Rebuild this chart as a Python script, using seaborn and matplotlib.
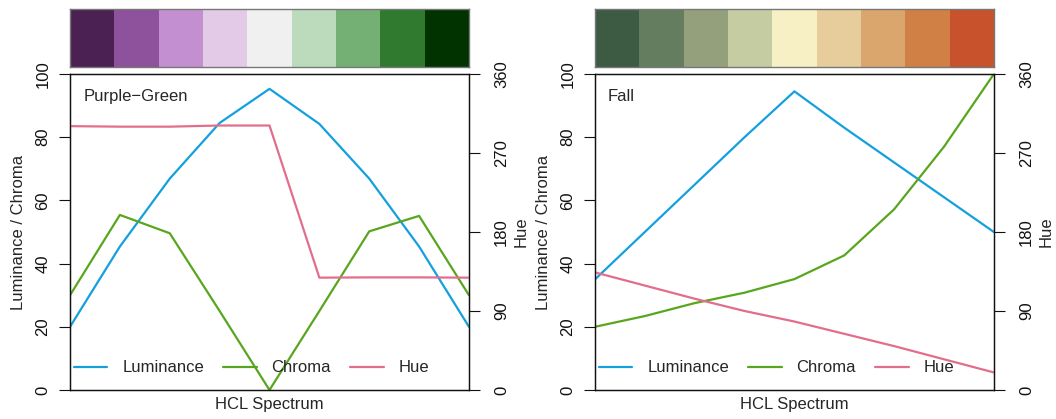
import matplotlib
matplotlib.use("Agg")
import matplotlib.pyplot as plt
import seaborn as sns
import pandas as pd

# HCL spectrum of two 9-colour palettes
positions = list(range(1, 10))
series_names = ["Luminance", "Chroma", "Hue"]

pg_name = "Purple\u2212Green"
pg_swatches = ["#4B2052", "#8E519B", "#C48FD1", "#E3CBE8", "#F0F0F0",
               "#BCDBBD", "#74AF74", "#2F7A2F", "#013301"]
pg_luminance = [20, 45.4, 66.9, 84.5, 95.3, 84.2, 66.9, 45.4, 20]
pg_chroma = [30, 55.4, 49.6, 25, 0, 25, 50.2, 55.1, 30]
pg_hue = [300.6, 300, 300, 301.3, 301.3, 128, 128.3, 128.3, 128]

fall_name = "Fall"
fall_swatches = ["#3D5A43", "#657D5F", "#94A07C", "#C6CCA1", "#F8F0C5",
                 "#E7CD9C", "#DBA66D", "#D18045", "#C7522B"]
fall_luminance = [35, 50, 65, 80, 94.5, 83, 72, 61, 50]
fall_chroma = [20, 23.4, 27.5, 30.8, 35.1, 42.6, 57.2, 77, 100]
fall_hue = [134, 119, 104, 90, 78, 64, 50, 35, 20]

line_colors = {"Luminance": "#14A0DE", "Chroma": "#58A61E", "Hue": "#E26E8C"}

sns.set_style("ticks")
plt.rcParams["font.family"] = ["Liberation Sans", "DejaVu Sans"]
plt.rcParams["font.size"] = 12

fig = plt.figure(figsize=(10.56, 4.19), dpi=100)


def draw_panel(left, name, swatches, lum, chroma, hue):
    width = 0.3778
    # colour swatches
    ax_sw = fig.add_axes([left, 0.8401, width, 0.1384])
    ax_sw.bar(positions, 1, width=1, color=swatches, linewidth=0)
    ax_sw.set_xlim(0.5, 9.5)
    ax_sw.set_ylim(0, 1)
    ax_sw.set_xticks([])
    ax_sw.set_yticks([])
    for s in ax_sw.spines.values():
        s.set_color("#777777")
        s.set_linewidth(1.0)

    df = pd.DataFrame({"x": positions, "Luminance": lum, "Chroma": chroma, "Hue": hue})

    ax = fig.add_axes([left, 0.0692, width, 0.7542])
    sns.lineplot(data=df, x="x", y="Luminance", ax=ax, color=line_colors["Luminance"],
                 linewidth=1.6, legend=False)
    sns.lineplot(data=df, x="x", y="Chroma", ax=ax, color=line_colors["Chroma"],
                 linewidth=1.6, legend=False)
    ax.set_xlim(1, 9)
    ax.set_ylim(0, 100)
    ax.set_xticks([])
    ax.set_yticks([0, 20, 40, 60, 80, 100])
    ax.tick_params(axis="y", length=8, width=0.8, pad=6, colors="#111111")
    plt.setp(ax.get_yticklabels(), rotation=90, va="center")
    ax.set_xlabel("HCL Spectrum", va="center")
    ax.xaxis.set_label_coords(0.5, -0.047)
    ax.set_ylabel("Luminance / Chroma", va="center", ha="center")
    ax.yaxis.set_label_coords(-0.130, 0.5)

    ax2 = ax.twinx()
    sns.lineplot(data=df, x="x", y="Hue", ax=ax2, color=line_colors["Hue"],
                 linewidth=1.6, legend=False)
    ax2.set_ylim(0, 360)
    ax2.set_yticks([0, 90, 180, 270, 360])
    ax2.tick_params(axis="y", length=8, width=0.8, pad=10, colors="#111111")
    plt.setp(ax2.get_yticklabels(), rotation=90, va="center")
    ax2.set_ylabel("Hue", va="center", ha="center", rotation=90)
    ax2.yaxis.set_label_coords(1.13, 0.5)

    for a in (ax, ax2):
        for s in a.spines.values():
            s.set_visible(True)
            s.set_color("#111111")
            s.set_linewidth(0.9)

    ax.text(0.033, 0.93, name, transform=ax.transAxes, ha="left", va="center")

    handles = ax.get_lines() + ax2.get_lines()
    ax2.legend(handles, series_names, loc="center left", bbox_to_anchor=(0.01, 0.07),
               ncol=3, frameon=False, handlelength=2.0, handletextpad=0.9,
               columnspacing=1.15, borderpad=0, borderaxespad=0)


draw_panel(0.0663, pg_name, pg_swatches, pg_luminance, pg_chroma, pg_hue)
draw_panel(0.5634, fall_name, fall_swatches, fall_luminance, fall_chroma, fall_hue)

fig.savefig("out.png", dpi=100)
